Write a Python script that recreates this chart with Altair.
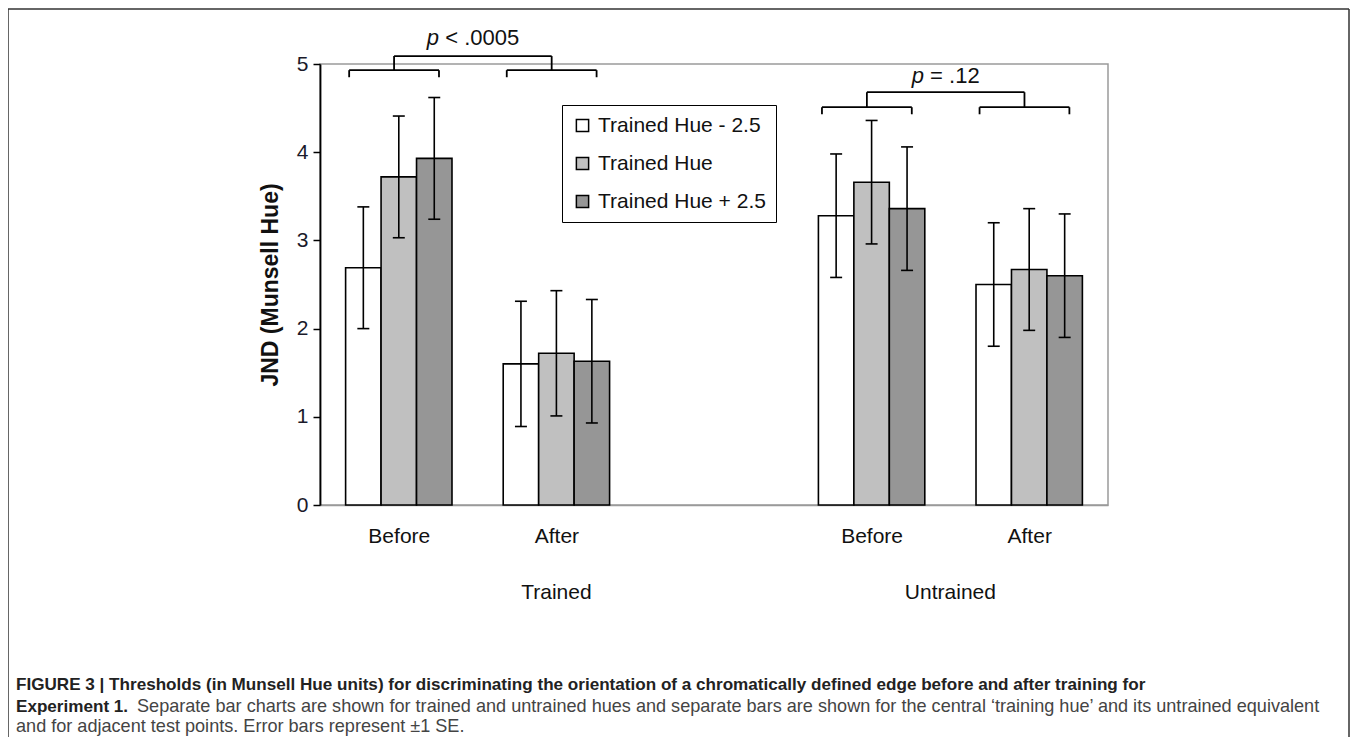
import altair as alt
import pandas as pd

# ---------------- data ----------------
conditions = ["Before", "After", "Before", "After"]
groups = ["Trained", "Trained", "Untrained", "Untrained"]
slots = [0, 1, 3, 4]          # category slots on the axis (slot 2 is the empty gap)
hues = ["Trained Hue - 2.5", "Trained Hue", "Trained Hue + 2.5"]
means = {
    "Trained Hue - 2.5": [2.69, 1.60, 3.28, 2.50],
    "Trained Hue":       [3.72, 1.72, 3.66, 2.67],
    "Trained Hue + 2.5": [3.93, 1.63, 3.36, 2.60],
}
ses = {
    "Trained Hue - 2.5": [0.69, 0.71, 0.70, 0.70],
    "Trained Hue":       [0.69, 0.71, 0.70, 0.69],
    "Trained Hue + 2.5": [0.69, 0.70, 0.70, 0.70],
}
hue_colors = ["#ffffff", "#c0c0c0", "#969696"]

# significance brackets
cmp_groups = ["Trained", "Untrained"]
cmp_text = ["< .0005", "= .12"]
cmp_low_y = [4.93, 4.51]
cmp_top_y = [5.09, 4.68]
cmp_text_y = [5.21, 4.78]

caption1 = ("FIGURE 3 | Thresholds (in Munsell Hue units) for discriminating the orientation "
            "of a chromatically defined edge before and after training for")
caption2_bold = "Experiment 1."
caption2 = ("Separate bar charts are shown for trained and untrained hues and separate bars "
            "are shown for the central \u2018training hue\u2019 and its untrained equivalent")
caption3 = "and for adjacent test points. Error bars represent \u00b11 SE."

FONT = "Liberation Sans"
BAR_W = 0.225

# ---------------- tables ----------------
rows = []
for hi, h in enumerate(hues):
    for i in range(len(slots)):
        rows.append({"slot": slots[i], "cond": conditions[i], "group": groups[i],
                     "hue": h, "hi": hi, "mean": means[h][i], "se": ses[h][i]})
df = pd.DataFrame(rows)

# group label positions: centre of the slots belonging to each group (Trained incl. gap)
group_df = pd.DataFrame({"label": ["Trained", "Untrained"], "pos": [1.0, 3.5]})

# bracket segments
seg = []
shift, hw, drop = -0.03, 0.285, 0.08
ptxt = []
for gi, g in enumerate(cmp_groups):
    gslots = [s for s, gg in zip(slots, groups) if gg == g]
    mids = [s + shift for s in gslots]
    yl, yt = cmp_low_y[gi], cmp_top_y[gi]
    for m in mids:
        seg.append({"x": m - hw, "x2": m + hw, "y": yl, "y2": yl})
        seg.append({"x": m - hw, "x2": m - hw, "y": yl, "y2": yl - drop})
        seg.append({"x": m + hw, "x2": m + hw, "y": yl, "y2": yl - drop})
        seg.append({"x": m, "x2": m, "y": yt, "y2": yl})
    seg.append({"x": mids[0], "x2": mids[1], "y": yt, "y2": yt})
    ptxt.append({"x": sum(mids) / 2, "y": cmp_text_y[gi], "t": cmp_text[gi], "gi": gi})
seg_df = pd.DataFrame(seg)
p_df = pd.DataFrame(ptxt)

# ---------------- scales ----------------
xs = alt.Scale(domain=[-0.5, 4.5], nice=False, zero=False)
ys = alt.Scale(domain=[0, 5], nice=False)

base = alt.Chart(df).transform_calculate(
    xc=f"datum.slot + (datum.hi - 1) * {BAR_W}",
).transform_calculate(
    x0=f"datum.xc - {BAR_W/2}", x1=f"datum.xc + {BAR_W/2}",
    lo="datum.mean - datum.se", hi_="datum.mean + datum.se",
    c0="datum.xc - 0.038", c1="datum.xc + 0.038", zero="0",
)

bars = base.mark_bar(stroke="black", strokeWidth=1.6).encode(
    x=alt.X("x0:Q", scale=xs, axis=alt.Axis(
        values=slots, title=None, ticks=False, grid=False,
        labelExpr="datum.value == 0 || datum.value == 3 ? 'Before' : 'After'",
        labelFont=FONT, labelFontSize=21, labelColor="#111", labelPadding=20,
        domainColor="#9a9a9a", domainWidth=1.5)),
    x2="x1:Q",
    y=alt.Y("mean:Q", scale=ys, axis=alt.Axis(
        values=[0, 1, 2, 3, 4, 5], format="d", grid=False, tickSize=7, tickColor="black",
        tickWidth=1.5, domainColor="black", domainWidth=1.8,
        labelFont=FONT, labelFontSize=21, labelColor="#1a1a2a", labelPadding=5,
        title="JND (Munsell Hue)", titleFont=FONT, titleFontSize=23,
        titleFontWeight="bold", titleColor="#111", titlePadding=14)),
    y2="zero:Q",
    fill=alt.Fill("hue:N", scale=alt.Scale(domain=hues, range=hue_colors),
                  legend=alt.Legend(title=None, orient="none", legendX=242, legendY=41,
                                    strokeColor="black", fillColor="white", padding=10,
                                    symbolType="square", symbolSize=150,
                                    symbolStrokeColor="black", symbolStrokeWidth=1.5,
                                    labelFont=FONT, labelFontSize=21, labelColor="#111",
                                    labelOffset=5, rowPadding=16, labelLimit=400)),
)

err = base.mark_rule(color="black", strokeWidth=1.6).encode(
    x=alt.X("xc:Q", scale=xs), y=alt.Y("lo:Q", scale=ys), y2="hi_:Q")
cap_hi = base.mark_rule(color="black", strokeWidth=1.6).encode(
    x=alt.X("c0:Q", scale=xs), x2="c1:Q", y=alt.Y("hi_:Q", scale=ys))
cap_lo = base.mark_rule(color="black", strokeWidth=1.6).encode(
    x=alt.X("c0:Q", scale=xs), x2="c1:Q", y=alt.Y("lo:Q", scale=ys))

brackets = alt.Chart(seg_df).mark_rule(color="black", strokeWidth=1.8).encode(
    x=alt.X("x:Q", scale=xs), x2="x2:Q", y=alt.Y("y:Q", scale=ys), y2="y2:Q")

p_dx = {0: (-46, -27.7), 1: (-34, -15.6)}
p_italic = alt.layer(*[
    alt.Chart(p_df[p_df.gi == gi]).mark_text(
        text="p", font=FONT, fontSize=22, fontStyle="italic", align="left",
        baseline="alphabetic", dx=p_dx[gi][0], color="#111").encode(
        x=alt.X("x:Q", scale=xs), y=alt.Y("y:Q", scale=ys))
    for gi in range(len(cmp_groups))])
p_rest = alt.layer(*[
    alt.Chart(p_df[p_df.gi == gi]).mark_text(
        font=FONT, fontSize=22, align="left", baseline="alphabetic",
        dx=p_dx[gi][1], color="#111").encode(
        x=alt.X("x:Q", scale=xs), y=alt.Y("y:Q", scale=ys), text="t:N")
    for gi in range(len(cmp_groups))])

group_labels = alt.Chart(group_df).mark_text(
    font=FONT, fontSize=21, color="#111", baseline="middle").encode(
    x=alt.X("pos:Q", scale=xs), y=alt.value(529), text="label:N")

def cap(text, x, y, weight, color, size):
    return alt.Chart(pd.DataFrame({"t": [text]})).mark_text(
        font=FONT, fontSize=size, fontWeight=weight, color=color,
        align="left", baseline="middle").encode(
        x=alt.value(x), y=alt.value(y), text="t:N")

captions = alt.layer(
    cap(caption1, -304, 621, "bold", "#222", 17.1),
    cap(caption2_bold, -304, 643, "bold", "#222", 17.1),
    cap(caption2, -183, 643, "normal", "#444", 18.1),
    cap(caption3, -304, 663, "normal", "#444", 18.1),
)

frame = alt.layer(
    alt.Chart(pd.DataFrame({"a": [0]})).mark_rule(color="#333", strokeWidth=1.5).encode(
        x=alt.value(-312), y=alt.value(-55), y2=alt.value(700)),
    alt.Chart(pd.DataFrame({"a": [0]})).mark_rule(color="#333", strokeWidth=1.5).encode(
        x=alt.value(1029), y=alt.value(-55), y2=alt.value(700)),
    alt.Chart(pd.DataFrame({"a": [0]})).mark_rule(color="#333", strokeWidth=1.5).encode(
        x=alt.value(-312), x2=alt.value(1029), y=alt.value(-55)),
)

chart = alt.layer(bars, err, cap_hi, cap_lo, brackets, p_italic, p_rest,
                  group_labels, captions, frame).properties(
    width=788, height=441,
    padding={"left": 312, "top": 56, "right": 242, "bottom": 232},
    autosize=alt.AutoSizeParams(type="none"),
).configure_view(stroke="#9a9a9a", strokeWidth=1.5)

chart.save("out.html", embed_options={"renderer": "svg", "actions": False})
